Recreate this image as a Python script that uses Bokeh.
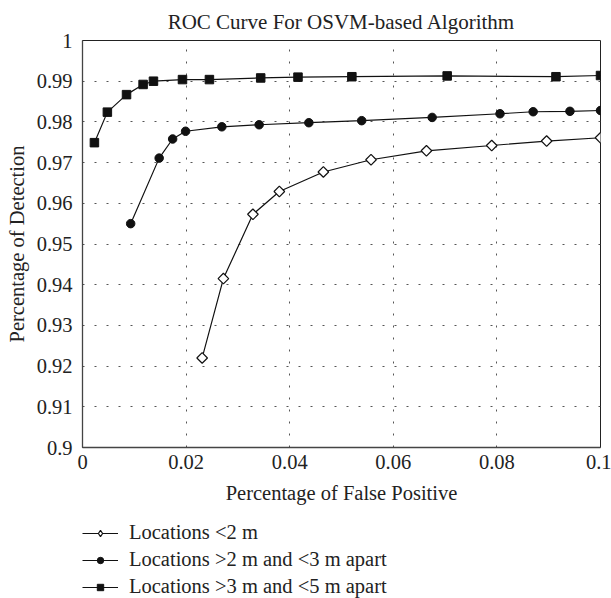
import math
from bokeh.plotting import figure
from bokeh.layouts import column
from bokeh.models import (FixedTicker, CustomJSTickFormatter, Legend, LegendItem, Range1d)
from bokeh.embed import file_html
from bokeh.resources import INLINE

# ---- data ----
x_ticks = [0, 0.02, 0.04, 0.06, 0.08, 0.1]
y_ticks = [0.9, 0.91, 0.92, 0.93, 0.94, 0.95, 0.96, 0.97, 0.98, 0.99, 1.0]

loc2_x = [0.0231, 0.0272, 0.0329, 0.0380, 0.0465, 0.0557, 0.0664, 0.0790, 0.0896, 0.1000]
loc2_y = [0.9220, 0.9415, 0.9573, 0.9629, 0.9677, 0.9707, 0.9729, 0.9742, 0.9753, 0.9761]

loc23_x = [0.0093, 0.0148, 0.0174, 0.0199, 0.0269, 0.0341, 0.0437, 0.0539, 0.0675, 0.0806, 0.0870, 0.0941, 0.1000]
loc23_y = [0.9550, 0.9711, 0.9758, 0.9777, 0.9788, 0.9793, 0.9798, 0.9803, 0.9811, 0.9820, 0.9825, 0.9826, 0.9828]

loc35_x = [0.0023, 0.0048, 0.0085, 0.0117, 0.0137, 0.0193, 0.0245, 0.0344, 0.0416, 0.0520, 0.0704, 0.0914, 0.1000]
loc35_y = [0.9749, 0.9824, 0.9867, 0.9892, 0.9900, 0.9904, 0.9904, 0.9908, 0.9910, 0.9911, 0.9913, 0.9911, 0.9914]

labels = ["Locations <2 m", "Locations >2 m and <3 m apart", "Locations >3 m and <5 m apart"]

FONT = "Liberation Serif"
TXT = "#222222"
lc = "#111111"

# ---------------- main chart ----------------
p = figure(width=611, height=512, output_backend="svg", toolbar_location=None,
           x_range=Range1d(0, 0.1), y_range=Range1d(0.9, 1.0),
           title="ROC Curve For OSVM-based Algorithm")
p.min_border_left = 82
p.min_border_right = 11
p.min_border_top = 40
p.min_border_bottom = 65

p.title.align = "center"
p.title.text_font = FONT
p.title.text_font_size = "21px"
p.title.text_font_style = "normal"
p.title.text_color = TXT
p.title.standoff = 13

p.outline_line_color = "#222222"
p.outline_line_width = 1

fmt = CustomJSTickFormatter(code="return Number(tick.toFixed(2)).toString();")

p.xaxis.ticker = FixedTicker(ticks=x_ticks)
p.yaxis.ticker = FixedTicker(ticks=y_ticks)
for ax in (p.xaxis[0], p.yaxis[0]):
    ax.formatter = fmt
    ax.major_tick_out = 0
    ax.major_tick_in = 0
    ax.minor_tick_out = 0
    ax.minor_tick_in = 0
    ax.axis_line_color = "#444444"
    ax.axis_line_width = 1.3
    ax.major_label_text_font = FONT
    ax.major_label_text_font_size = "20.5px"
    ax.major_label_text_color = TXT
    ax.axis_label_text_font = FONT
    ax.axis_label_text_font_size = "20.5px"
    ax.axis_label_text_font_style = "normal"
    ax.axis_label_text_color = TXT

p.xaxis.axis_label = "Percentage of False Positive"
p.yaxis.axis_label = "Percentage of Detection"
p.xaxis.major_label_standoff = 7
p.xaxis.axis_label_standoff = 10
p.yaxis.major_label_standoff = 10
p.yaxis.axis_label_standoff = 6

for g in (p.xgrid[0], p.ygrid[0]):
    g.grid_line_color = "#555555"
    g.grid_line_width = 1
    g.grid_line_dash = "2 10"
p.xgrid.ticker = FixedTicker(ticks=x_ticks)
p.ygrid.ticker = FixedTicker(ticks=y_ticks)

p.line(loc2_x, loc2_y, line_color=lc, line_width=1.2)
p.scatter(loc2_x, loc2_y, marker="square", angle=math.pi / 4, size=7.5,
          fill_color="white", line_color=lc, line_width=1.2)
p.line(loc23_x, loc23_y, line_color=lc, line_width=1.2)
p.scatter(loc23_x, loc23_y, marker="circle", size=8.5, fill_color=lc, line_color=lc)
p.line(loc35_x, loc35_y, line_color=lc, line_width=1.2)
p.scatter(loc35_x, loc35_y, marker="square", size=8.5, fill_color=lc, line_color=lc)

# ---------------- legend strip (below the chart) ----------------
# same series drawn again, but the strip's y-range keeps them out of view;
# they only provide the legend samples
q = figure(width=611, height=86, output_backend="svg", toolbar_location=None,
           x_range=Range1d(0, 0.1), y_range=Range1d(0, 0.5),
           x_axis_type=None, y_axis_type=None)
q.min_border = 0
q.min_border_left = 0
q.min_border_right = 0
q.min_border_top = 0
q.min_border_bottom = 0
q.outline_line_color = None
q.xgrid.visible = False
q.ygrid.visible = False

e1l = q.line(loc2_x, loc2_y, line_color=lc, line_width=1.2)
e1m = q.scatter(loc2_x, loc2_y, marker="diamond", size=8, fill_color="white",
                line_color=lc, line_width=1.2)
e2l = q.line(loc23_x, loc23_y, line_color=lc, line_width=1.2)
e2m = q.scatter(loc23_x, loc23_y, marker="circle", size=8, fill_color=lc, line_color=lc)
e3l = q.line(loc35_x, loc35_y, line_color=lc, line_width=1.2)
e3m = q.scatter(loc35_x, loc35_y, marker="square", size=8, fill_color=lc, line_color=lc)

legend = Legend(items=[
    LegendItem(label=labels[0], renderers=[e1l, e1m]),
    LegendItem(label=labels[1], renderers=[e2l, e2m]),
    LegendItem(label=labels[2], renderers=[e3l, e3m]),
], location=(0, 0))
legend.orientation = "vertical"
legend.glyph_width = 36
legend.glyph_height = 16
legend.label_height = 20
legend.spacing = 4
legend.label_standoff = 11
legend.padding = 0
legend.margin = 0
legend.border_line_color = None
legend.background_fill_alpha = 0
legend.label_text_font = FONT
legend.label_text_font_size = "20.5px"
legend.label_text_color = TXT
q.add_layout(legend, "center")

layout = column(p, q, spacing=0)
open("out.html", "w").write(file_html(layout, INLINE))
